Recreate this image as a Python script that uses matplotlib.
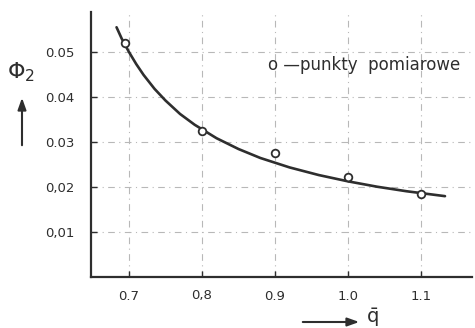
import matplotlib
matplotlib.use("Agg")
import matplotlib.pyplot as plt

# measured points
meas_x = [0.695, 0.8, 0.9, 1.0, 1.1]
meas_y = [0.0522, 0.0324, 0.0277, 0.0223, 0.0184]

# fitted curve
curve_x = [0.683, 0.69, 0.70, 0.71, 0.72, 0.735, 0.75, 0.77, 0.79, 0.82,
           0.85, 0.88, 0.92, 0.96, 1.00, 1.04, 1.08, 1.133]
curve_y = [0.0556, 0.0531, 0.0501, 0.0474, 0.0450, 0.0419, 0.0393, 0.0363,
           0.0339, 0.0309, 0.0285, 0.0265, 0.0244, 0.0227, 0.0213, 0.0201,
           0.0191, 0.0180]

xticks = [0.7, 0.8, 0.9, 1.0, 1.1]
xtick_labels = ["0.7", "0,8", "0.9", "1.0", "1.1"]
yticks = [0.01, 0.02, 0.03, 0.04, 0.05]
ytick_labels = ["0,01", "0,02", "0.03", "0.04", "0.05"]

ink = "#2e2e2e"
plt.rcParams['font.family'] = ['DejaVu Sans']
plt.rcParams['mathtext.fontset'] = 'dejavusans'

fig = plt.figure(figsize=(4.75, 3.28), dpi=100)
ax = fig.add_axes([91/475, 1 - 277/328, (472-91)/475, (277-12)/328])

ax.plot(curve_x, curve_y, color=ink, lw=1.9, solid_capstyle='round', zorder=3)
ax.plot(meas_x, meas_y, 'o', ms=5.5, mfc='white', mec=ink, mew=1.3, zorder=4)

ax.set_xlim(0.648, 1.17)
ax.set_ylim(0, 0.059)
ax.set_xticks(xticks)
ax.set_xticklabels(xtick_labels)
ax.set_yticks(yticks)
ax.set_yticklabels(ytick_labels)
ax.tick_params(direction='in', length=4, width=1, colors=ink, labelsize=9.5)
ax.tick_params(axis='x', pad=9)
ax.tick_params(axis='y', pad=12)

ax.grid(True, color='#b8b8b8', lw=0.8, ls=(0, (6, 4, 1, 4)))

for s in ['top', 'right']:
    ax.spines[s].set_visible(False)
for s in ['left', 'bottom']:
    ax.spines[s].set_color(ink)
    ax.spines[s].set_linewidth(1.6)

ax.text(0.89, 0.0473, "o \u2014punkty  pomiarowe", fontsize=12, color=ink,
        va='center', ha='left')

# y-axis label with arrow
fig.text(21/475, 1 - 72/328, r"$\Phi_2$", fontsize=16, color=ink,
         ha='center', va='center')
fig.patches.append(matplotlib.patches.FancyArrowPatch(
    (22/475, 1 - 148/328), (22/475, 1 - 95/328), transform=fig.transFigure,
    arrowstyle='-|>,head_length=7,head_width=2.5', color=ink, lw=1.5))

# x-axis label with arrow
fig.patches.append(matplotlib.patches.FancyArrowPatch(
    (300/475, 1 - 322/328), (362/475, 1 - 322/328), transform=fig.transFigure,
    arrowstyle='-|>,head_length=7,head_width=2.5', color=ink, lw=1.5))
fig.text(372/475, 1 - 318/328, r"$\bar{\mathrm{q}}$", fontsize=14, color=ink,
         ha='center', va='center')

fig.savefig("out.png", dpi=100, facecolor='white')
